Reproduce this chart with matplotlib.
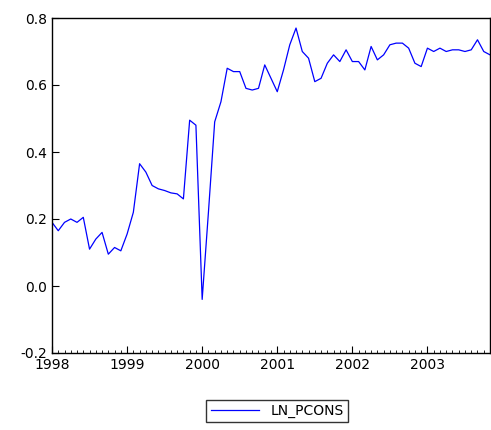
import numpy as np
import matplotlib
matplotlib.use('Agg')
import matplotlib.pyplot as plt

# monthly values starting 1998M01
ln_pcons = [0.19, 0.165, 0.19, 0.20, 0.19, 0.205, 0.11, 0.14, 0.16, 0.095, 0.115, 0.105,
            0.155, 0.22, 0.365, 0.34, 0.30, 0.29, 0.285, 0.278, 0.275, 0.26, 0.495, 0.48,
            -0.04, 0.22, 0.49, 0.55, 0.65, 0.64, 0.64, 0.59, 0.585, 0.59, 0.66, 0.62,
            0.58, 0.645, 0.72, 0.77, 0.70, 0.68, 0.61, 0.62, 0.665, 0.69, 0.67, 0.705,
            0.67, 0.67, 0.645, 0.715, 0.675, 0.69, 0.72, 0.725, 0.725, 0.71, 0.665, 0.655,
            0.71, 0.70, 0.71, 0.70, 0.705, 0.705, 0.70, 0.705, 0.735, 0.70, 0.69]
years = [1998, 1999, 2000, 2001, 2002, 2003]

t = 1998 + np.arange(len(ln_pcons)) / 12.0

fig = plt.figure(figsize=(4.91, 4.30), dpi=100)
ax = fig.add_axes([52/491, 1 - 353/430, 438/491, 335/430])
line, = ax.plot(t, ln_pcons, color='#0000ff', lw=0.9, label='LN_PCONS')
ax.set_yticks([-0.2, 0.0, 0.2, 0.4, 0.6, 0.8])
ax.set_yticklabels(['-0.2', '0.0', '0.2', '0.4', '0.6', '0.8'])
ax.set_xticks(years)
ax.set_xticklabels([str(y) for y in years])
ax.set_xticks(t, minor=True)
ax.set_xlim(1998, t[-1])
ax.set_ylim(-0.2, 0.8)
ax.tick_params(which='major', direction='in', length=5, labelsize=10)
ax.tick_params(which='minor', direction='in', length=2.5, axis='x')
for s in ax.spines.values():
    s.set_linewidth(1.0)

fig.legend(handles=[line], loc='center', bbox_to_anchor=(277/491, 1 - 411/430),
           frameon=True, fancybox=False, edgecolor='black', fontsize=10,
           handlelength=3.5, borderpad=0.3)
fig.savefig('out.png', dpi=100)
